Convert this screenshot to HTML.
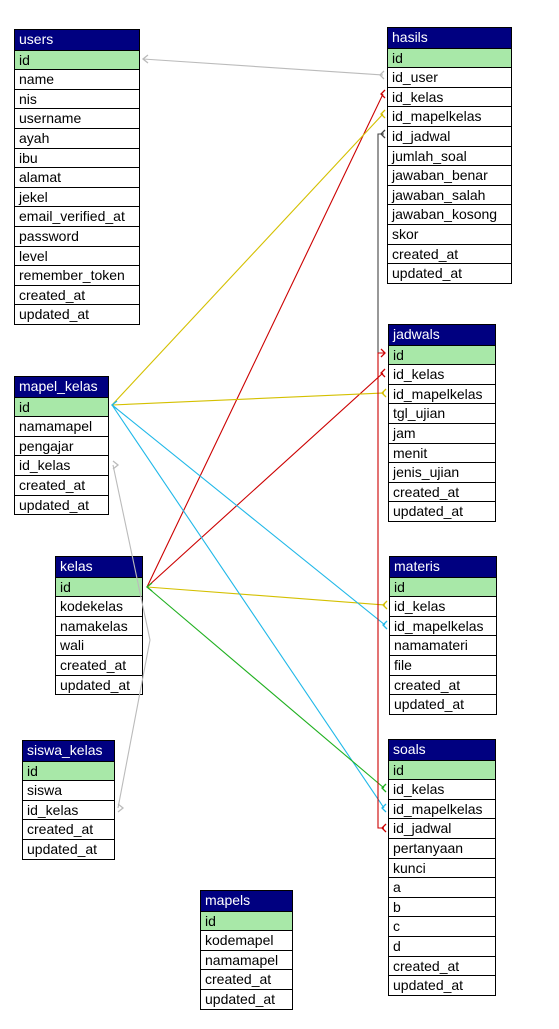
<!DOCTYPE html>
<html><head><meta charset="utf-8"><style>
body{margin:0;width:559px;height:1029px;background:#fff;position:relative;overflow:hidden;font-family:"Liberation Sans",Arial,sans-serif}
.t{position:absolute;border:1px solid #000;box-sizing:border-box;background:#fff;z-index:1}
.t div{height:19.6px;line-height:19px;font-size:14px;padding-left:4px;border-top:1px solid #000;box-sizing:border-box;color:#000;white-space:nowrap;overflow:hidden}
.t div.h{background:#000080;color:#fff;border-top:none}
.t div.k{background:#a8e8a8}
svg{position:absolute;left:0;top:0;z-index:2}
</style></head><body>
<div class="t" style="left:14px;top:29px;width:126px"><div class="h">users</div><div class="k">id</div><div>name</div><div>nis</div><div>username</div><div>ayah</div><div>ibu</div><div>alamat</div><div>jekel</div><div>email_verified_at</div><div>password</div><div>level</div><div>remember_token</div><div>created_at</div><div>updated_at</div></div>
<div class="t" style="left:387px;top:27px;width:125px"><div class="h">hasils</div><div class="k">id</div><div>id_user</div><div>id_kelas</div><div>id_mapelkelas</div><div>id_jadwal</div><div>jumlah_soal</div><div>jawaban_benar</div><div>jawaban_salah</div><div>jawaban_kosong</div><div>skor</div><div>created_at</div><div>updated_at</div></div>
<div class="t" style="left:14px;top:376px;width:95px"><div class="h">mapel_kelas</div><div class="k">id</div><div>namamapel</div><div>pengajar</div><div>id_kelas</div><div>created_at</div><div>updated_at</div></div>
<div class="t" style="left:388px;top:324px;width:108px"><div class="h">jadwals</div><div class="k">id</div><div>id_kelas</div><div>id_mapelkelas</div><div>tgl_ujian</div><div>jam</div><div>menit</div><div>jenis_ujian</div><div>created_at</div><div>updated_at</div></div>
<div class="t" style="left:55px;top:556px;width:88px"><div class="h">kelas</div><div class="k">id</div><div>kodekelas</div><div>namakelas</div><div>wali</div><div>created_at</div><div>updated_at</div></div>
<div class="t" style="left:389px;top:556px;width:108px"><div class="h">materis</div><div class="k">id</div><div>id_kelas</div><div>id_mapelkelas</div><div>namamateri</div><div>file</div><div>created_at</div><div>updated_at</div></div>
<div class="t" style="left:22px;top:740px;width:93px"><div class="h">siswa_kelas</div><div class="k">id</div><div>siswa</div><div>id_kelas</div><div>created_at</div><div>updated_at</div></div>
<div class="t" style="left:388px;top:739px;width:108px"><div class="h">soals</div><div class="k">id</div><div>id_kelas</div><div>id_mapelkelas</div><div>id_jadwal</div><div>pertanyaan</div><div>kunci</div><div>a</div><div>b</div><div>c</div><div>d</div><div>created_at</div><div>updated_at</div></div>
<div class="t" style="left:200px;top:890px;width:93px"><div class="h">mapels</div><div class="k">id</div><div>kodemapel</div><div>namamapel</div><div>created_at</div><div>updated_at</div></div>
<svg width="559" height="1029" fill="none" stroke-width="1.1">
<polyline points="383,75 143,59" stroke="#bbb"/>
<polyline points="113,465 150,640 118,808" stroke="#bbb"/>
<polyline points="383,94 147,587" stroke="#c00"/>
<polyline points="383,373 147,587" stroke="#c00"/>
<polyline points="383,114 112,405" stroke="#d4c000"/>
<polyline points="384,393 112,405" stroke="#d4c000"/>
<polyline points="385,605 147,587" stroke="#d4c000"/>
<polyline points="385,625 112,405" stroke="#20b8e8"/>
<polyline points="384,808 112,405" stroke="#20b8e8"/>
<polyline points="384,788 147,587" stroke="#20b020"/>
<polyline points="384,134 378,134 378,353" stroke="#444"/>
<polyline points="384,353 378,353 378,828 384,828" stroke="#c00"/>
<g stroke-width="1.3">
<path d="M148,55 143,59 148,63" stroke="#bbb"/>
<path d="M384,71 380,75 384,79" stroke="#bbb"/>
<path d="M385,90 381,94 385,98" stroke="#c00"/>
<path d="M385,110 381,114 385,118" stroke="#d4c000"/>
<path d="M385,130 381,134 385,138" stroke="#444"/>
<path d="M381,349 385,353 381,357" stroke="#c00"/>
<path d="M385,369 381,373 385,377" stroke="#c00"/>
<path d="M386,389 382,393 386,397" stroke="#d4c000"/>
<path d="M387,601 383,605 387,609" stroke="#d4c000"/>
<path d="M387,621 383,625 387,629" stroke="#20b8e8"/>
<path d="M386,784 382,788 386,792" stroke="#20b020"/>
<path d="M386,804 382,808 386,812" stroke="#20b8e8"/>
<path d="M386,824 382,828 386,832" stroke="#c00"/>
<path d="M117,401 112,405 117,409" stroke="#20b8e8"/>
<path d="M152,583 147,587 152,591" stroke="#20b020"/>
<path d="M113,461 118,465 113,469" stroke="#bbb"/>
<path d="M118,804 123,808 118,812" stroke="#bbb"/>
</g>
</svg>
</body></html>
